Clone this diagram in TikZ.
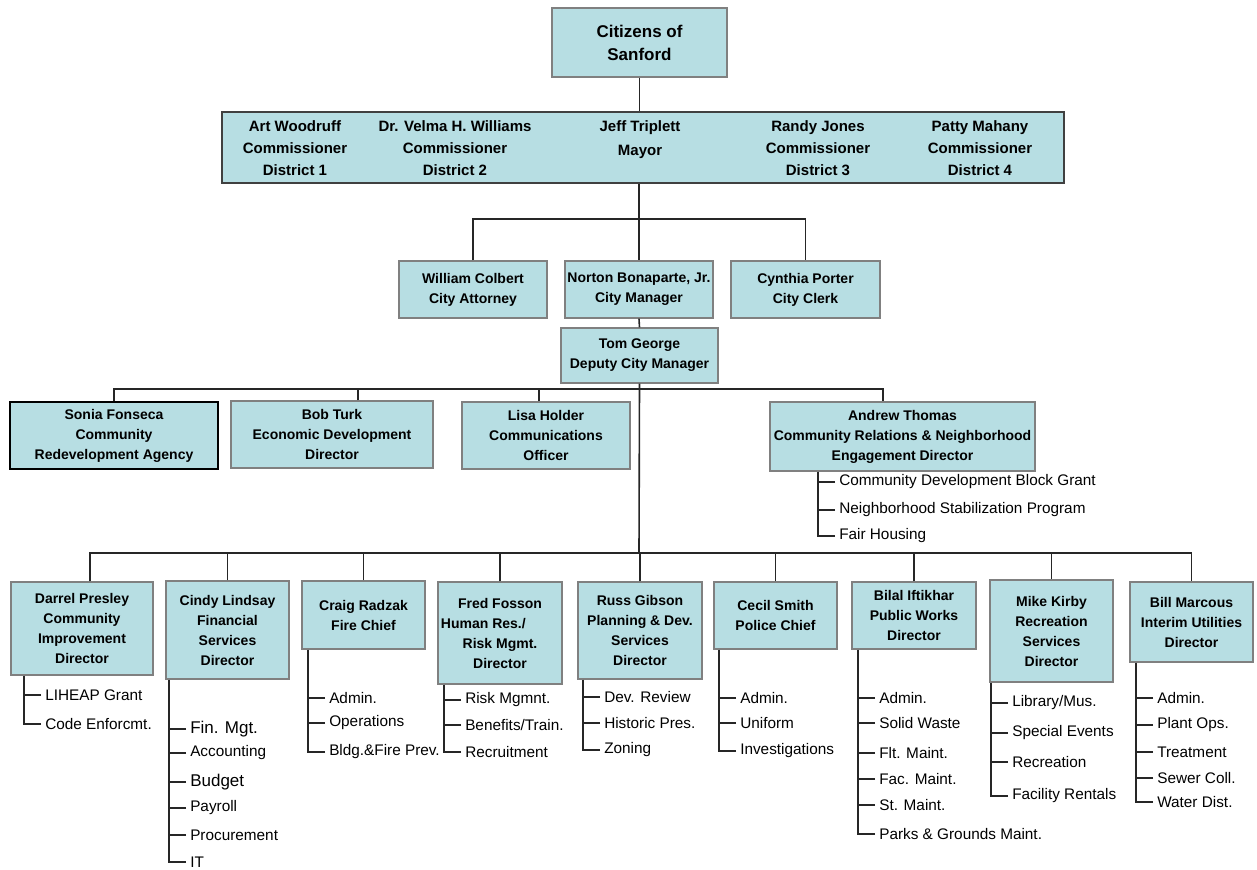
\documentclass[tikz,border=0pt]{standalone}
\usepackage{fontspec}
\setmainfont{Liberation Sans}
\usetikzlibrary{positioning,calc}
\definecolor{boxfill}{RGB}{183,222,227}
\definecolor{boxline}{RGB}{128,128,128}

\begin{document}
\begin{tikzpicture}[x=0.75pt,y=-0.75pt,
  boxsize/.style 2 args={minimum width=#1*0.75pt,minimum height=#2*0.75pt},
  post/.style={draw=boxline,line width=1pt,fill=boxfill,align=center,inner sep=0pt,
    font=\fontsize{10.5}{15}\selectfont\bfseries},
  member/.style={align=center,inner sep=0pt,font=\fontsize{11.25}{16.5}\selectfont\bfseries},
  item/.style={anchor=west,inner xsep=3pt,inner ysep=1pt,font=\fontsize{11.5}{13}\selectfont},
  big/.style={font=\fontsize{12.75}{14}\selectfont},
  link/.style={line width=1.2pt,draw=black!85}]
\useasboundingbox (0,0) rectangle (1257,869);

\node[post,boxsize={175}{69},font=\fontsize{12.75}{17.25}\selectfont\bfseries] (citizens) at (639.5,42.5) {Citizens of\\Sanford};

\node[post,draw=black!75,line width=1.4pt,boxsize={842}{71}] (council) at (643,147.5) {};
\node[member] (art) at (295,148.5) {Art Woodruff\\Commissioner\\District 1};
\node[member] (velma) at (455,148.5) {Dr. Velma H. Williams\\Commissioner\\District 2};
\node[member,font=\fontsize{11.25}{18}\selectfont\bfseries] (jeff) at (640,140) {Jeff Triplett\\Mayor};
\node[member] (randy) at (818,148.5) {Randy Jones\\Commissioner\\District 3};
\node[member] (patty) at (980,148.5) {Patty Mahany\\Commissioner\\District 4};

\node[post,boxsize={148}{57}] (attorney) at (473,289.5) {William Colbert\\City Attorney};
\node[post,boxsize={148}{57}] (manager) at (639,289.5) {Norton Bonaparte, Jr.\\City Manager};
\node[post,boxsize={149}{57}] (clerk) at (805.5,289.5) {Cynthia Porter\\City Clerk};
\node[post,boxsize={157}{55}] (deputy) at (639.5,355.5) {Tom George\\Deputy City Manager};

\node[post,draw=black,line width=1.2pt,boxsize={208}{67}] (sonia) at (114,435.5) {Sonia Fonseca\\Community\\Redevelopment Agency};
\node[post,boxsize={202}{67}] (bob) at (332,434.5) {Bob Turk\\Economic Development\\Director};
\node[post,boxsize={168}{67}] (lisa) at (546,435.5) {Lisa Holder\\Communications\\Officer};
\node[post,boxsize={265}{69}] (andrew) at (902.5,436.5) {Andrew Thomas\\Community Relations \& Neighborhood\\Engagement Director};

\node[post,boxsize={142}{93}] (darrel) at (82,628.5) {Darrel Presley\\Community\\Improvement\\Director};
\node[post,boxsize={123}{98}] (cindy) at (227.5,630) {Cindy Lindsay\\Financial\\Services\\Director};
\node[post,boxsize={123}{68}] (craig) at (363.5,615) {Craig Radzak\\Fire Chief};
\node[post,boxsize={124}{102}] (fred) at (500,633) {Fred Fosson\\Human Res./\hspace{25pt}\mbox{}\\Risk Mgmt.\\Director};
\node[post,boxsize={124}{97}] (russ) at (640,630.5) {Russ Gibson\\Planning \& Dev.\\Services\\Director};
\node[post,boxsize={123}{67}] (cecil) at (775.5,615.5) {Cecil Smith\\Police Chief};
\node[post,boxsize={124}{67}] (bilal) at (914,615.5) {Bilal Iftikhar\\Public Works\\Director};
\node[post,boxsize={123}{102}] (mike) at (1051.5,631) {Mike Kirby\\Recreation\\Services\\Director};
\node[post,boxsize={123}{80}] (bill) at (1191.5,622) {Bill Marcous\\Interim Utilities\\Director};

\node[item] (cr1) at (835,482) {Community Development Block Grant};
\node[item] (cr2) at (835,510) {Neighborhood Stabilization Program};
\node[item] (cr3) at (835,536) {Fair Housing};

\node[item] (ci1) at (41,695) {LIHEAP Grant};
\node[item] (ci2) at (41,724) {Code Enforcmt.};

\node[item,big] (fs1) at (186,729) {Fin. Mgt.};
\node[item] (fs2) at (186,753) {Accounting};
\node[item,big] (fs3) at (186,782) {Budget};
\node[item] (fs4) at (186,808) {Payroll};
\node[item] (fs5) at (186,835) {Procurement};
\node[item] (fs6) at (186,862) {IT};

\node[item] (fd1) at (325,698) {Admin.};
\node[item] (fd2) at (325,723) {Operations};
\node[item] (fd3) at (325,752) {Bldg.\&Fire Prev.};

\node[item] (hr1) at (461,700) {Risk Mgmnt.};
\node[item] (hr2) at (461,725) {Benefits/Train.};
\node[item] (hr3) at (461,752) {Recruitment};

\node[item] (pl1) at (600,697) {Dev. Review};
\node[item] (pl2) at (600,723) {Historic Pres.};
\node[item] (pl3) at (600,750) {Zoning};

\node[item] (pd1) at (736,698) {Admin.};
\node[item] (pd2) at (736,723) {Uniform};
\node[item] (pd3) at (736,751) {Investigations};

\node[item] (pw1) at (875,698) {Admin.};
\node[item] (pw2) at (875,723) {Solid Waste};
\node[item] (pw3) at (875,753) {Flt. Maint.};
\node[item] (pw4) at (875,779) {Fac. Maint.};
\node[item] (pw5) at (875,805) {St. Maint.};
\node[item] (pw6) at (875,834) {Parks \& Grounds Maint.};

\node[item] (rs1) at (1008,703) {Library/Mus.};
\node[item] (rs2) at (1008,733) {Special Events};
\node[item] (rs3) at (1008,762) {Recreation};
\node[item] (rs4) at (1008,796) {Facility Rentals};

\node[item] (ut1) at (1153,698) {Admin.};
\node[item] (ut2) at (1153,725) {Plant Ops.};
\node[item] (ut3) at (1153,752) {Treatment};
\node[item] (ut4) at (1153,778) {Sewer Coll.};
\node[item] (ut5) at (1153,802) {Water Dist.};

\coordinate (bar1) at (639,219);
\coordinate (bar2) at (639,389);
\coordinate (bar3) at (639,553);
\coordinate (bobtap) at ($(bob.north)+(26,0)$);
\coordinate (lisatap) at ($(lisa.north)+(-7,0)$);
\coordinate (andrewtap) at ($(andrew.north)+(-19.5,0)$);
\coordinate (darreltap) at ($(darrel.north)+(8,0)$);

\draw[link] (citizens.south) -- (citizens.south |- council.north);
\draw[link] (council.south -| bar1) -- (manager.north);
\draw[link] (attorney.north) |- (bar1) -| (clerk.north);
\draw[link] (manager.south) -- (deputy.north);
\draw[link] (deputy.south) -- (bar3);
\draw[link] (sonia.north) |- (bar2) -| (andrewtap);
\draw[link] (bobtap) -- (bobtap |- bar2);
\draw[link] (lisatap) -- (lisatap |- bar2);
\draw[link] (darreltap) |- (bar3) -| (bill.north);
\foreach \n in {cindy,craig,fred,russ,cecil,bilal,mike}
  \draw[link] (\n.north) -- (\n.north |- bar3);

\foreach \b/\p/\k in {andrew/cr/3,darrel/ci/2,cindy/fs/6,craig/fd/3,fred/hr/3,russ/pl/3,cecil/pd/3,bilal/pw/6,mike/rs/4,bill/ut/5} {
  \draw[link] ($(\b.south -| \p1.west)+(-17,0)$) |- (\p\k.west);
  \foreach \i in {1,...,\k}
    \draw[link] (\p\i.west) -- ++(-17,0);
}
\end{tikzpicture}
\end{document}
